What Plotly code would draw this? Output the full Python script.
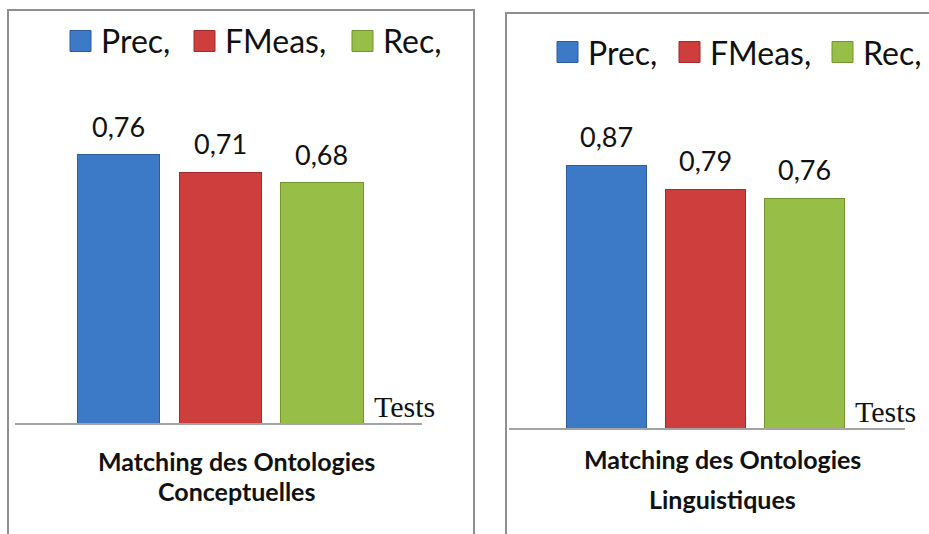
import plotly.graph_objects as go

# Metric names, legend labels and scores per ontology family
metrics = ["Prec", "FMeas", "Rec"]
legend_labels = ["Prec,", "FMeas,", "Rec,"]
conceptuelles = [0.76, 0.71, 0.68]
linguistiques = [0.87, 0.79, 0.76]
panel_titles = [
    ["Matching des Ontologies", "Conceptuelles"],
    ["Matching des Ontologies", "Linguistiques"],
]
axis_label = "Tests"

colors = ["#3c79c6", "#cd3e3c", "#97be46"]
edges = ["#2c5d9c", "#9e2d2b", "#74952f"]

W, H = 929, 534
fig = go.Figure()

# panel geometry (paper fractions)
panels = [
    dict(xd=[15 / W, 422 / W], yd=[1 - 423 / H, 1 - 70 / H], xr=[-1.017, 2.983],
         box=[8, 10], title_x=237 / W, title_y=[1 - 461 / H, 1 - 491 / H],
         leg_y=41, leg_marker=[70, 194, 352], tests_x=404 / W, values=conceptuelles),
    dict(xd=[509 / W, 905 / W], yd=[1 - 428 / H, 1 - 126 / H], xr=[-0.992, 3.018],
         box=[506, 13], title_x=722 / W, title_y=[1 - 459 / H, 1 - 499 / H],
         leg_y=52, leg_marker=[557, 679, 832], tests_x=885 / W, values=linguistiques),
]

for p_i, p in enumerate(panels):
    n = "" if p_i == 0 else str(p_i + 1)
    xa, ya = "x" + n, "y" + n
    for m_i, (m, v) in enumerate(zip(metrics, p["values"])):
        fig.add_trace(go.Bar(
            x=[m], y=[v], xaxis=xa, yaxis=ya, name=legend_labels[m_i],
            marker=dict(color=colors[m_i], line=dict(color=edges[m_i], width=1)),
            showlegend=False, hoverinfo="skip",
        ))
        fig.add_annotation(
            x=m, y=v, xref=xa, yref=ya, text=f"{v:.2f}".replace(".", ","),
            showarrow=False, yanchor="bottom", yshift=10,
            font=dict(family="Lato", size=27, color="#111111"),
        )
    fig.update_layout(**{
        "xaxis" + n: dict(domain=p["xd"], range=p["xr"], anchor=ya, showline=True,
                          linecolor="#a3a3a3", linewidth=1.5, showticklabels=False,
                          ticks="", showgrid=False, zeroline=False, fixedrange=True),
        "yaxis" + n: dict(domain=p["yd"], range=[0, 1], anchor=xa, visible=False,
                          fixedrange=True),
    })
    # axis caption at the right end of the baseline
    fig.add_annotation(
        x=p["tests_x"], y=p["yd"][0], xref="paper", yref="paper", text=axis_label,
        showarrow=False, xanchor="center", yanchor="bottom", yshift=-2,
        font=dict(family="Liberation Serif", size=30, color="#111111"),
    )
    # category title under the axis
    for line, ty in zip(panel_titles[p_i], p["title_y"]):
        fig.add_annotation(
            x=p["title_x"], y=ty, xref="paper", yref="paper", text=f"<b>{line}</b>",
            showarrow=False, xanchor="center", yanchor="middle",
            font=dict(family="Lato", size=25, color="#111111"),
        )
    # panel frame (open at the bottom / right edge of the page)
    bx, by = p["box"]
    fig.add_shape(type="rect", xref="paper", yref="paper",
                  x0=bx / W, x1=(1.2 if p_i == 1 else 474 / W),
                  y0=-0.2, y1=1 - by / H,
                  line=dict(color="#8f8f8f", width=2), fillcolor="rgba(0,0,0,0)")
    # legend: coloured squares followed by the series labels
    for m_i, mx in enumerate(p["leg_marker"]):
        cy = p["leg_y"]
        fig.add_shape(type="rect", xref="paper", yref="paper",
                      x0=mx / W, x1=(mx + 21) / W, y0=1 - (cy + 10.5) / H, y1=1 - (cy - 10.5) / H,
                      line=dict(color=edges[m_i], width=1), fillcolor=colors[m_i])
        fig.add_annotation(
            x=(mx + 29) / W, y=1 - cy / H, xref="paper", yref="paper",
            text=legend_labels[m_i], showarrow=False, xanchor="left", yanchor="middle",
            font=dict(family="Lato", size=32, color="#111111"),
        )

fig.update_layout(
    width=W, height=H, margin=dict(l=0, r=0, t=0, b=0),
    paper_bgcolor="white", plot_bgcolor="white",
    barmode="stack", bargap=0.19, showlegend=False,
)

fig.write_html("out.html")
